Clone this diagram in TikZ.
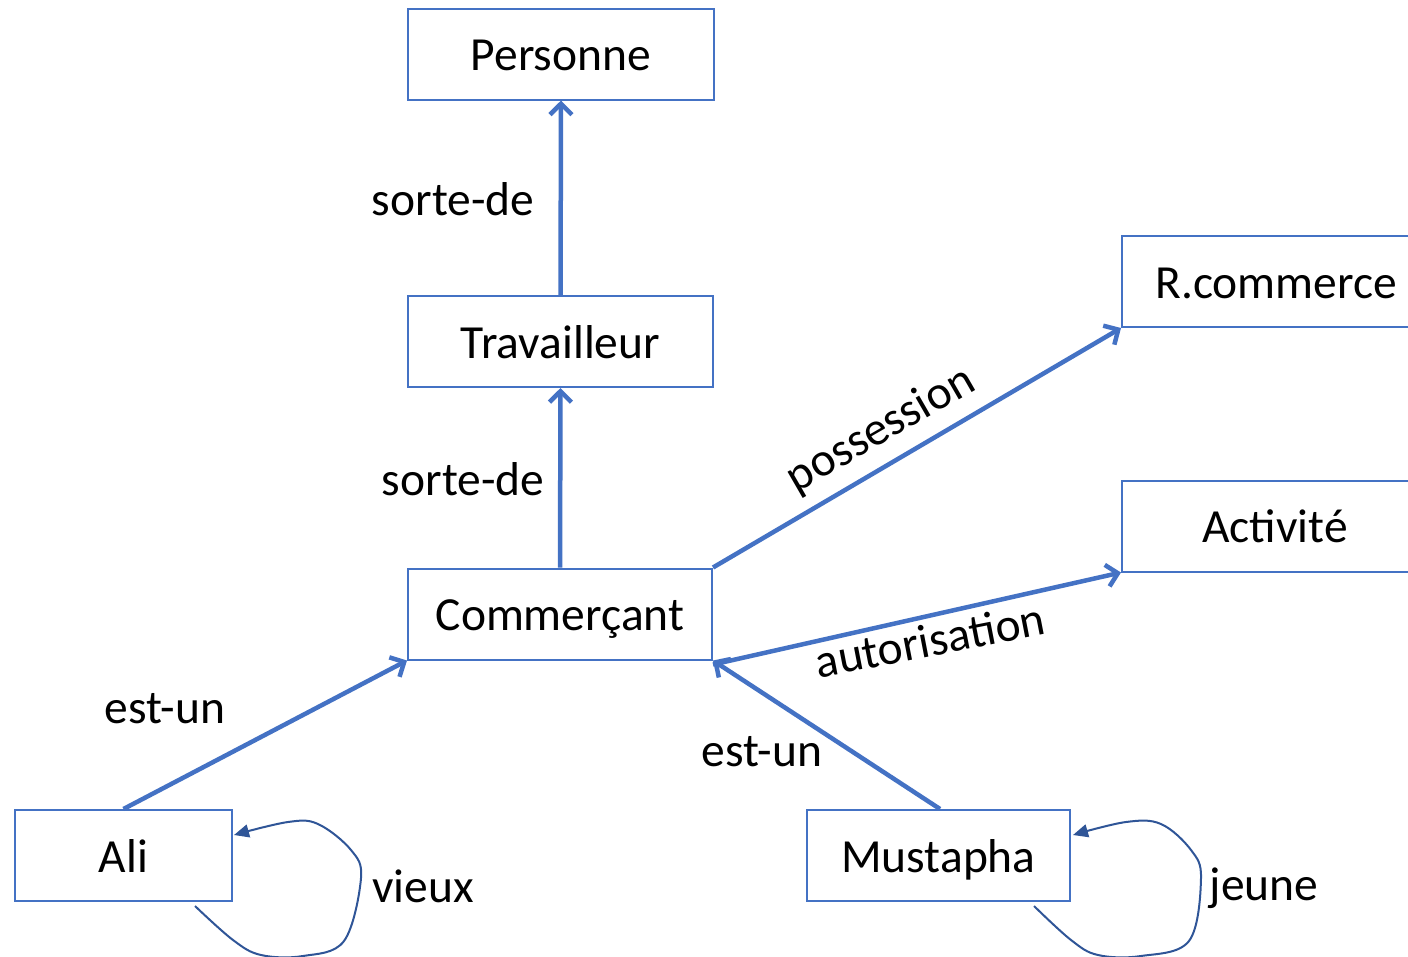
\documentclass[tikz,border=0pt]{standalone}
\usepackage{fontspec}
\setmainfont{Carlito}
\usetikzlibrary{arrows.meta}
\definecolor{boxblue}{HTML}{4472C4}
\definecolor{loopblue}{HTML}{2F5597}

\begin{document}
\begin{tikzpicture}[x=1pt,y=-1pt,
  every node/.style={font=\fontsize{47.5}{57}\selectfont},
  concept/.style={draw=boxblue, line width=2pt, minimum height=91pt,
    inner sep=0pt, text height=33pt, text depth=0pt},
  link/.style={draw=boxblue, line width=4.5pt,
    -{Straight Barb[length=11pt,width=22pt]}},
  selfloop/.style={draw=loopblue, line width=2pt,
    -{Triangle[length=15pt,width=13pt]}},
  rel/.style={inner sep=0pt}
]
% page frame
\clip (0,0) rectangle (1408,956);

% concepts
\node[concept, minimum width=306pt] (pers) at (561,54) {Personne};
\node[concept, minimum width=305pt] (trav) at (560.5,341.5) {Travailleur};
\node[concept, minimum width=304pt] (comm) at (560,614) {Commerçant};
\node[concept, minimum width=308pt] (rcom) at (1276,281.5) {R.commerce};
\node[concept, minimum width=306pt] (act) at (1275,526) {Activité};
\node[concept, minimum width=217pt] (ali) at (123.5,855.5) {Ali};
\node[concept, minimum width=263pt] (must) at (938.5,855.5) {Mustapha};

% relations
\draw[link] (trav.north) -- (pers.south);
\draw[link] (comm.north) -- (trav.south);
\draw[link] (comm.north east) -- (rcom.south west);
\draw[link] ([yshift=-4pt]comm.south east) -- (act.south west);
\draw[link] (ali.north) -- (comm.south west);
\draw[link] ([xshift=1.5pt]must.north) -- (comm.south east);

% reflexive properties
\draw[selfloop, shift={(ali.south east)}] plot[smooth, tension=0.6]
  coordinates {(-38,4) (0,38) (28,53) (70,54) (111,39) (128,-24) (118,-52) (85,-78) (55,-80) (1,-67)};
\draw[selfloop, shift={(must.south east)}] plot[smooth, tension=0.6]
  coordinates {(-37,4) (0,38) (27,53) (70,54) (118,39) (130,-24) (120,-52) (90,-78) (55,-80) (2,-67)};

% relation labels
\node[rel] (l1) at (453,199) {sorte-de};
\node[rel] (l2) at (463,479) {sorte-de};
\node[rel, rotate=30] (l3) at (881,430) {possession};
\node[rel, rotate=11] (l4) at (930,640) {autorisation};
\node[rel] (l5) at (165,709) {est-un};
\node[rel] (l6) at (762,752) {est-un};
\node[rel] (l7) at (423,886) {vieux};
\node[rel] (l8) at (1264,888) {jeune};
\end{tikzpicture}
\end{document}
